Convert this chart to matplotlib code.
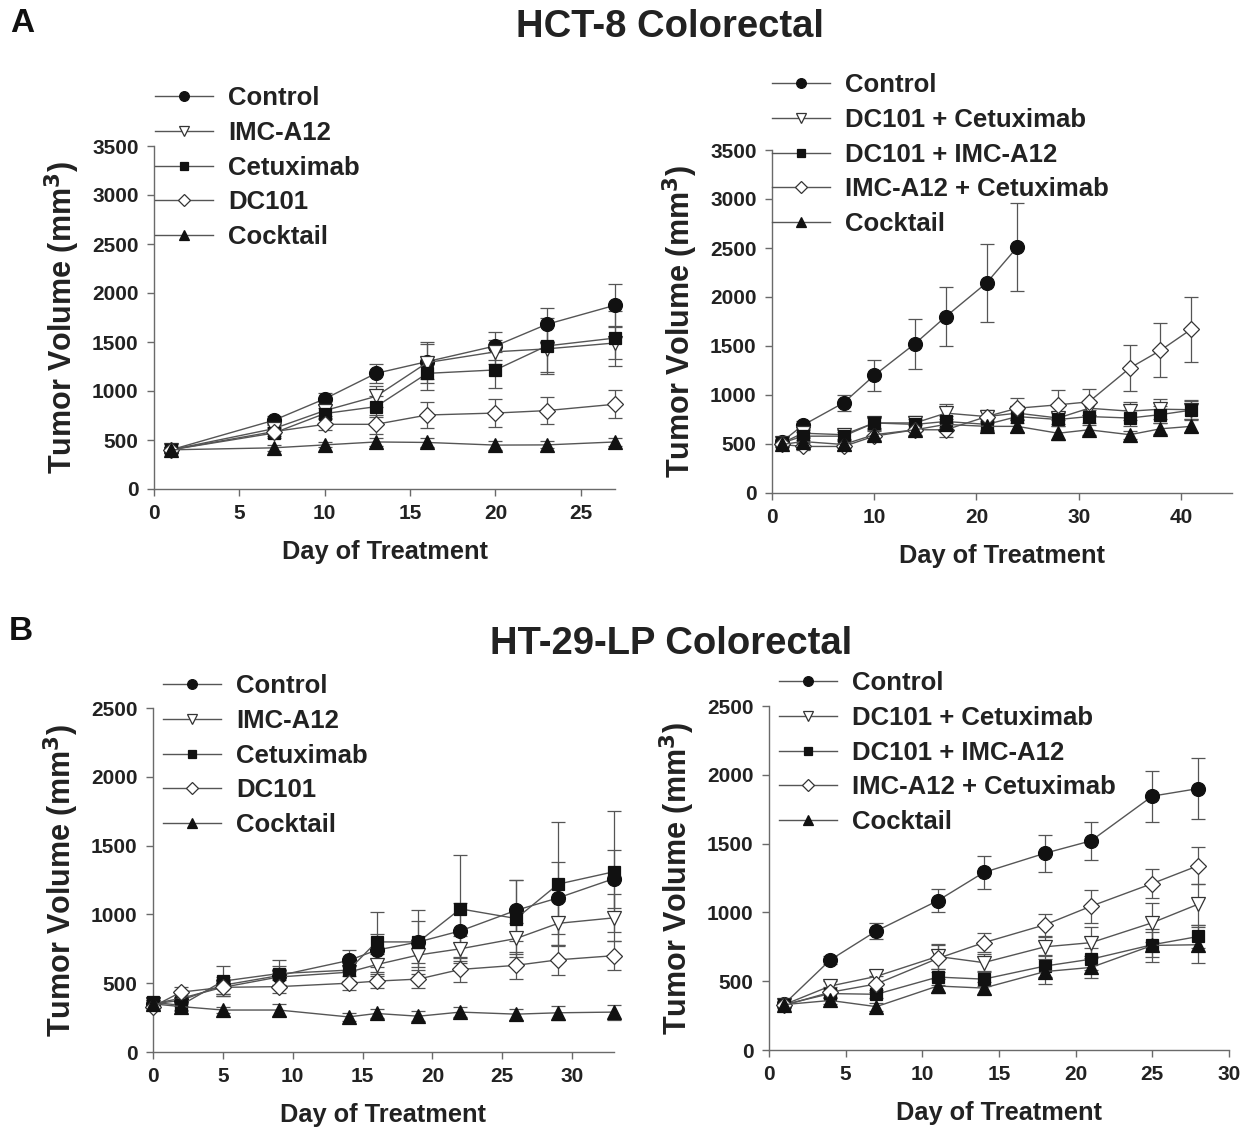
import matplotlib
matplotlib.use("Agg")
import matplotlib.pyplot as plt

plt.rcParams['font.family'] = ['Liberation Sans', 'DejaVu Sans']
plt.rcParams['font.weight'] = 'bold'
plt.rcParams['axes.labelweight'] = 'bold'

W, H = 1250, 1130
TXT = '#222222'
LINE = '#555555'
SPINE = '#6a6a6a'

# ---- data ----
# A, left: HCT-8 single agents
a1_days = [1, 7, 10, 13, 16, 20, 23, 27]
a1_control = [400, 700, 920, 1180, 1300, 1460, 1680, 1875]
a1_control_err = [30, 45, 55, 100, 180, 140, 165, 215]
a1_imc = [400, 615, 800, 945, 1290, 1400, 1430, 1490]
a1_imc_err = [30, 50, 60, 110, 210, 120, 240, 165]
a1_cetux = [400, 570, 770, 840, 1180, 1215, 1460, 1540]
a1_cetux_err = [30, 50, 60, 110, 170, 180, 290, 280]
a1_dc101 = [400, 585, 660, 660, 755, 775, 800, 865]
a1_dc101_err = [30, 45, 60, 95, 135, 145, 135, 145]
a1_cocktail = [400, 420, 450, 480, 475, 448, 450, 480]
a1_cocktail_err = [25, 30, 25, 45, 50, 45, 35, 45]

# A, right: HCT-8 combinations
a2_days = [1, 3, 7, 10, 14, 17, 21, 24, 28, 31, 35, 38, 41]
a2_control = [525, 690, 920, 1200, 1525, 1800, 2145, 2510]
a2_control_err = [30, 45, 85, 155, 255, 300, 400, 450]
a2_dc_cet = [510, 610, 595, 715, 715, 815, 780, 815, 765, 865, 835, 855, 850]
a2_dc_cet_err = [30, 40, 45, 60, 70, 90, 60, 70, 60, 70, 90, 100, 100]
a2_dc_imc = [510, 580, 580, 715, 700, 730, 700, 780, 750, 780, 765, 800, 845]
a2_dc_imc_err = [30, 40, 40, 55, 60, 60, 60, 70, 70, 70, 80, 90, 90]
a2_imc_cet = [495, 475, 475, 580, 645, 645, 780, 865, 900, 930, 1275, 1455, 1670]
a2_imc_cet_err = [30, 35, 35, 50, 60, 70, 65, 105, 155, 130, 235, 275, 330]
a2_cocktail = [495, 525, 495, 595, 645, 700, 680, 680, 610, 645, 595, 655, 680]
a2_cocktail_err = [30, 40, 40, 50, 50, 60, 50, 60, 70, 50, 40, 55, 60]

# B, left: HT-29-LP single agents
b1_days = [0, 2, 5, 9, 14, 16, 19, 22, 26, 29, 33]
b1_control = [350, 375, 485, 555, 665, 740, 800, 880, 1030, 1120, 1260]
b1_control_err = [30, 40, 60, 70, 75, 120, 150, 200, 220, 260, 210]
b1_imc = [350, 390, 470, 545, 580, 635, 705, 750, 825, 935, 975]
b1_imc_err = [30, 40, 60, 60, 70, 80, 90, 90, 110, 160, 170]
b1_cetux = [360, 340, 515, 570, 595, 800, 800, 1040, 970, 1220, 1310]
b1_cetux_err = [30, 40, 110, 100, 80, 220, 230, 395, 280, 450, 440]
b1_dc101 = [330, 435, 470, 475, 500, 515, 530, 600, 630, 670, 700]
b1_dc101_err = [25, 35, 50, 45, 50, 50, 65, 90, 100, 110, 105]
b1_cocktail = [350, 330, 305, 305, 255, 280, 260, 290, 275, 285, 290]
b1_cocktail_err = [25, 25, 25, 45, 30, 35, 35, 35, 40, 50, 55]

# B, right: HT-29-LP combinations
b2_days = [1, 4, 7, 11, 14, 18, 21, 25, 28]
b2_control = [335, 655, 865, 1085, 1290, 1430, 1520, 1845, 1900]
b2_control_err = [20, 30, 60, 85, 120, 135, 140, 185, 220]
b2_dc_cet = [330, 465, 535, 680, 635, 750, 780, 925, 1060]
b2_dc_cet_err = [20, 40, 50, 90, 60, 70, 115, 140, 150]
b2_dc_imc = [330, 410, 405, 530, 515, 610, 660, 765, 825]
b2_dc_imc_err = [20, 30, 30, 60, 50, 80, 80, 90, 85]
b2_imc_cet = [325, 420, 480, 665, 780, 910, 1045, 1210, 1340]
b2_imc_cet_err = [20, 40, 60, 100, 70, 80, 120, 105, 135]
b2_cocktail = [330, 360, 315, 465, 450, 570, 600, 760, 765]
b2_cocktail_err = [20, 25, 30, 50, 45, 90, 80, 120, 130]

single_labels = ['Control', 'IMC-A12', 'Cetuximab', 'DC101', 'Cocktail']
combo_labels = ['Control', 'DC101 + Cetuximab', 'DC101 + IMC-A12',
                'IMC-A12 + Cetuximab', 'Cocktail']

# marker, face colour, size
styles = [('o', '#111111', 10), ('v', 'white', 10), ('s', '#111111', 8.5),
          ('D', 'white', 8.5), ('^', '#111111', 9.5)]


def make_axes(x0, x1, y0, y1):
    return fig.add_axes([x0 / W, 1 - y1 / H, (x1 - x0) / W, (y1 - y0) / H])


def draw_panel(ax, days, series, labels, xmax, xstep, ymax, leg_xy):
    handles = []
    for (vals, errs), lab, (mk, fc, ms) in zip(series, labels, styles):
        d = days[:len(vals)]
        eb = ax.errorbar(d, vals, yerr=errs, fmt='none', ecolor=LINE,
                         elinewidth=0.9, capsize=5, capthick=0.9, zorder=2)
        for art in eb.lines[1] + eb.lines[2]:
            art.set_clip_on(False)
        h, = ax.plot(d, vals, color=LINE, lw=1.0, marker=mk, ms=ms,
                     mfc=fc, mec='#111111' if fc != 'white' else '#333333',
                     mew=0.9, label=lab, zorder=3, clip_on=False)
        handles.append(h)
    ax.set_xlim(0, xmax)
    ax.set_ylim(0, ymax)
    ax.set_xticks(range(0, xmax + 1, xstep))
    ax.set_yticks(range(0, ymax + 1, 500))
    for s in ['top', 'right']:
        ax.spines[s].set_visible(False)
    for s in ['left', 'bottom']:
        ax.spines[s].set_color(SPINE)
        ax.spines[s].set_linewidth(1.0)
    ax.tick_params(direction='out', length=5, width=1.0, color=SPINE,
                   labelsize=15, labelcolor=TXT, pad=6)
    ax.set_xlabel('Day of Treatment', fontsize=18.3, color=TXT, labelpad=12)
    ax.set_ylabel('Tumor Volume (mm$^\\mathbf{3}$)', fontsize=22, color=TXT,
                  labelpad=7)
    ax.legend(handles=handles, loc='upper left',
              bbox_to_anchor=(leg_xy[0] / W, 1 - leg_xy[1] / H),
              bbox_transform=fig.transFigure, frameon=False, fontsize=18.5,
              markerscale=0.7, handlelength=2.26, handletextpad=0.58,
              labelspacing=0.42, borderpad=0, borderaxespad=0,
              labelcolor=TXT)


fig = plt.figure(figsize=(W / 100, H / 100), dpi=100)

ax1 = make_axes(154, 615, 146, 489)
draw_panel(ax1, a1_days,
           [(a1_control, a1_control_err), (a1_imc, a1_imc_err),
            (a1_cetux, a1_cetux_err), (a1_dc101, a1_dc101_err),
            (a1_cocktail, a1_cocktail_err)],
           single_labels, 27, 5, 3500, (155, 86))

ax2 = make_axes(772, 1232, 150, 493)
draw_panel(ax2, a2_days,
           [(a2_control, a2_control_err), (a2_dc_cet, a2_dc_cet_err),
            (a2_dc_imc, a2_dc_imc_err), (a2_imc_cet, a2_imc_cet_err),
            (a2_cocktail, a2_cocktail_err)],
           combo_labels, 45, 10, 3500, (772, 73))
ax2.set_xticks([0, 10, 20, 30, 40])

ax3 = make_axes(153, 614, 708, 1052)
draw_panel(ax3, b1_days,
           [(b1_control, b1_control_err), (b1_imc, b1_imc_err),
            (b1_cetux, b1_cetux_err), (b1_dc101, b1_dc101_err),
            (b1_cocktail, b1_cocktail_err)],
           single_labels, 33, 5, 2500, (163, 674))

ax4 = make_axes(769, 1229, 706, 1050)
draw_panel(ax4, b2_days,
           [(b2_control, b2_control_err), (b2_dc_cet, b2_dc_cet_err),
            (b2_dc_imc, b2_dc_imc_err), (b2_imc_cet, b2_imc_cet_err),
            (b2_cocktail, b2_cocktail_err)],
           combo_labels, 30, 5, 2500, (779, 671))

fig.text(670 / W, 1 - 27 / H, 'HCT-8 Colorectal', ha='center', va='center',
         fontsize=27.5, fontweight='bold', color=TXT)
fig.text(671 / W, 1 - 644 / H, 'HT-29-LP Colorectal', ha='center',
         va='center', fontsize=27.5, fontweight='bold', color=TXT)
fig.text(22 / W, 1 - 24 / H, 'A', ha='center', va='center', fontsize=24,
         fontweight='bold', color='#111111')
fig.text(21 / W, 1 - 631 / H, 'B', ha='center', va='center', fontsize=24,
         fontweight='bold', color='#111111')

fig.savefig('out.png', dpi=100, facecolor='white')
